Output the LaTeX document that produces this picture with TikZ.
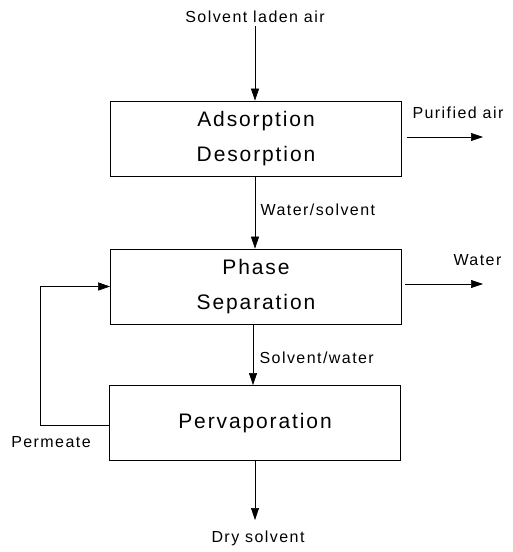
\documentclass[tikz,border=0pt]{standalone}
\usepackage{fontspec}
\setmainfont{Liberation Sans}[LetterSpace=9]
\usetikzlibrary{arrows.meta}
\begin{document}
\begin{tikzpicture}[x=1pt,y=-1pt]

\tikzset{unit/.style={draw,line width=0.8pt,minimum width=291pt,minimum height=75pt,align=center,font=\fontsize{21}{35}\selectfont}}
\tikzset{lbl/.style={font=\fontsize{16}{19}\selectfont}}
\tikzset{flow/.style={-{Triangle[length=12pt,width=8pt]},line width=0.6pt}}

\useasboundingbox (0,0) rectangle (513,552);

\node[lbl] (feed) at (255,17) {Solvent laden air};
\node[unit] (ads) at (256,138.5) {Adsorption\\Desorption};
\node[unit] (phase) at (256,286.5) {Phase\\Separation};
\node[unit] (perv) at (255,423) {Pervaporation};

\draw[flow] (feed) -- (feed |- ads.north);
\draw[flow] (ads.south -| 255,0) -- (phase.north -| 255,0) node[lbl,midway,anchor=west,xshift=2pt,yshift=3pt] (ws) {Water/solvent};
\draw[flow] (phase.south -| 253,0) -- (perv.north -| 253,0) node[lbl,pos=0.5,anchor=west,xshift=3pt,yshift=-3pt] (sw) {Solvent/water};

\node[lbl,anchor=west] (pur) at (409,113) {Purified air};
\coordinate (p0) at (407,137);
\coordinate (p1) at (483,137);
\draw[flow] (p0) -- (p1);

\node[lbl,anchor=west] (wat) at (450,260) {Water};
\coordinate (w0) at (405,284);
\coordinate (w1) at (483,284);
\draw[flow] (w0) -- (w1);

% permeate back to phase separation
\coordinate (loop) at (40,425);
\draw[flow] (perv.west |- loop) -- (loop) |- (phase.west);
\node[lbl] (perm) at (51,442) {Permeate};

\node[lbl] (dry) at (258,538) {Dry solvent};
\coordinate (d1) at (255,520);
\draw[flow] (perv.south -| d1) -- (d1);

\end{tikzpicture}
\end{document}
